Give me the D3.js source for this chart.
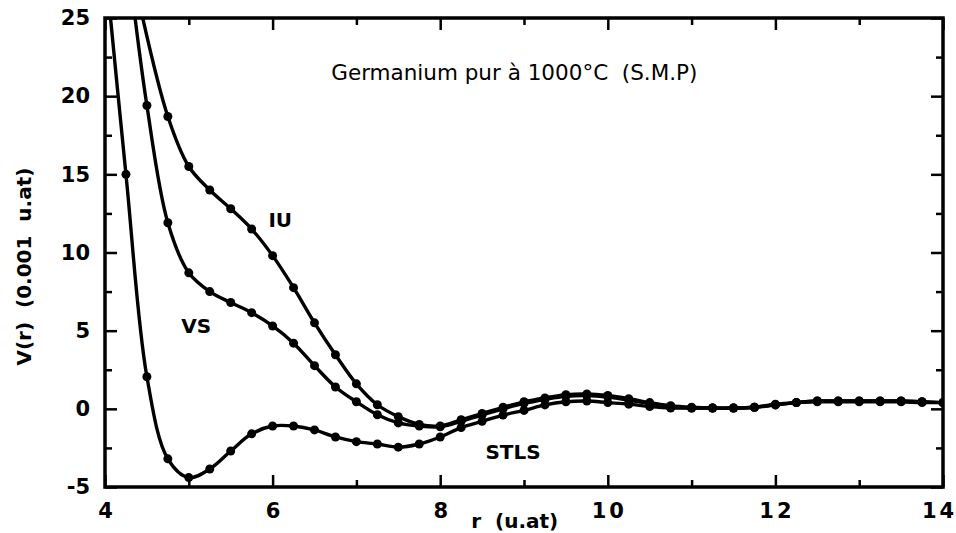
<!DOCTYPE html>
<html>
<head>
<meta charset="utf-8">
<script src="https://cdn.jsdelivr.net/npm/d3@7"></script>
<style>
  html, body { margin: 0; padding: 0; background: #fff; }
  svg { display: block; font-family: "DejaVu Sans", Arial, Helvetica, sans-serif; }
  svg text { white-space: pre; }
</style>
</head>
<body>
<svg id="chart" width="956" height="533"></svg>
<script>
// Pair potential V(r) of pure germanium at 1000 °C, three local-field schemes
const iuR   = [4.4, 4.75, 5.0, 5.25, 5.5, 5.75, 6.0, 6.25, 6.5, 6.75, 7.0, 7.25, 7.5, 7.75, 8.0, 8.25, 8.5, 8.75, 9.0, 9.25, 9.5, 9.75, 10.0, 10.25, 10.5, 10.75, 11.0, 11.25, 11.5, 11.75, 12.0, 12.25, 12.5, 12.75, 13.0, 13.25, 13.5, 13.75, 14.0];
const iuV   = [26.2, 18.7, 15.5, 14.0, 12.8, 11.5, 9.8, 7.75, 5.5, 3.46, 1.6, 0.26, -0.5, -1.0, -1.1, -0.7, -0.3, 0.1, 0.45, 0.7, 0.9, 0.95, 0.85, 0.65, 0.4, 0.2, 0.1, 0.05, 0.05, 0.1, 0.25, 0.4, 0.5, 0.5, 0.5, 0.5, 0.5, 0.45, 0.4];

const vsR   = [4.3, 4.5, 4.75, 5.0, 5.25, 5.5, 5.75, 6.0, 6.25, 6.5, 6.75, 7.0, 7.25, 7.5, 7.75, 8.0, 8.25, 8.5, 8.75, 9.0, 9.25, 9.5, 9.75, 10.0, 10.25, 10.5, 10.75, 11.0, 11.25, 11.5, 11.75, 12.0, 12.25, 12.5, 12.75, 13.0, 13.25, 13.5, 13.75, 14.0];
const vsV   = [27.6, 19.4, 11.9, 8.7, 7.5, 6.8, 6.15, 5.3, 4.2, 2.76, 1.4, 0.45, -0.38, -0.9, -1.1, -1.15, -0.8, -0.4, 0.0, 0.35, 0.6, 0.8, 0.85, 0.75, 0.55, 0.35, 0.15, 0.05, 0.05, 0.05, 0.1, 0.25, 0.4, 0.5, 0.5, 0.5, 0.5, 0.5, 0.45, 0.4];

const stlsR = [4.0, 4.25, 4.5, 4.75, 5.0, 5.25, 5.5, 5.75, 6.0, 6.25, 6.5, 6.75, 7.0, 7.25, 7.5, 7.75, 8.0, 8.25, 8.5, 8.75, 9.0, 9.25, 9.5, 9.75, 10.0, 10.25, 10.5, 10.75, 11.0, 11.25, 11.5, 11.75, 12.0, 12.25, 12.5, 12.75, 13.0, 13.25, 13.5, 13.75, 14.0];
const stlsV = [28.6, 15.0, 2.05, -3.2, -4.4, -3.85, -2.7, -1.6, -1.1, -1.1, -1.35, -1.8, -2.1, -2.25, -2.45, -2.25, -1.8, -1.2, -0.8, -0.4, -0.1, 0.25, 0.45, 0.5, 0.4, 0.3, 0.15, 0.05, 0.05, 0.05, 0.05, 0.1, 0.3, 0.4, 0.45, 0.45, 0.45, 0.45, 0.45, 0.4, 0.4];

const xMajor = [4, 6, 8, 10, 12, 14];
const xMinor = [5, 7, 9, 11, 13];
const yMajor = [-5, 0, 5, 10, 15, 20, 25];
const yMinor = [-2.5, 2.5, 7.5, 12.5, 17.5, 22.5];

const titleText = "Germanium pur à 1000°C  (S.M.P)";
const xTitle = "r  (u.at)";
const yTitle = "V(r)  (0.001  u.at)";

// Curve names with the data position of each name's lower-left corner
const series = [
  { name: "IU",   r: iuR,   v: iuV,   lx: 5.95, ly: 11.6 },
  { name: "VS",   r: vsR,   v: vsV,   lx: 4.91, ly: 4.85 },
  { name: "STLS", r: stlsR, v: stlsV, lx: 8.54, ly: -3.2 }
];

const svg = d3.select("#chart");
const mLeft = 105, mRight = 943, mTop = 18, mBottom = 487;

const x = d3.scaleLinear().domain([4, 14]).range([mLeft, mRight]);
const y = d3.scaleLinear().domain([-5, 25]).range([mBottom, mTop]);

svg.append("defs").append("clipPath").attr("id", "plotclip")
  .append("rect").attr("x", mLeft).attr("y", mTop)
  .attr("width", mRight - mLeft).attr("height", mBottom - mTop);

const plot = svg.append("g").attr("clip-path", "url(#plotclip)");

const line = d3.line()
  .x(d => x(d[0])).y(d => y(d[1]))
  .curve(d3.curveCatmullRom.alpha(0.5));

series.forEach(s => {
  const pts = s.r.map((r, i) => [r, s.v[i]]);
  plot.append("path")
    .attr("d", line(pts))
    .attr("fill", "none")
    .attr("stroke", "#000")
    .attr("stroke-width", 3.4)
    .attr("stroke-linejoin", "round");
  plot.selectAll(null)
    .data(pts.filter(p => p[1] <= 25))
    .enter().append("circle")
    .attr("cx", d => x(d[0]))
    .attr("cy", d => y(d[1]))
    .attr("r", 4.5)
    .attr("fill", "#000");
});

// Axes with inward ticks on all four sides
function styleAxis(g) {
  g.select(".domain").remove();
  g.selectAll(".tick line").attr("stroke", "#000").attr("stroke-width", 2.5);
}

const tickFont = g => g.selectAll("text")
  .attr("fill", "#000")
  .attr("font-family", "'DejaVu Sans', Arial, sans-serif")
  .attr("font-size", 21)
  .attr("font-weight", "bold");

svg.append("g").attr("transform", `translate(0,${mBottom})`)
  .call(d3.axisBottom(x).tickValues(xMajor).tickSize(-12).tickPadding(16)
        .tickFormat(d => String(d)))
  .call(styleAxis).call(tickFont)
  .call(g => g.selectAll("text")
    .attr("letter-spacing", d => d >= 10 ? 3 : 0)
    .attr("dx", d => d === 14 ? -4 : (d >= 10 ? 1 : 0)));
svg.append("g").attr("transform", `translate(0,${mBottom})`)
  .call(d3.axisBottom(x).tickValues(xMinor).tickSize(-7).tickFormat(""))
  .call(styleAxis);

svg.append("g").attr("transform", `translate(0,${mTop})`)
  .call(d3.axisTop(x).tickValues(xMajor).tickSize(-12).tickFormat(""))
  .call(styleAxis);
svg.append("g").attr("transform", `translate(0,${mTop})`)
  .call(d3.axisTop(x).tickValues(xMinor).tickSize(-7).tickFormat(""))
  .call(styleAxis);

svg.append("g").attr("transform", `translate(${mLeft},0)`)
  .call(d3.axisLeft(y).tickValues(yMajor).tickSize(-12).tickPadding(15)
        .tickFormat(d => String(d)))
  .call(styleAxis).call(tickFont);
svg.append("g").attr("transform", `translate(${mLeft},0)`)
  .call(d3.axisLeft(y).tickValues(yMinor).tickSize(-7).tickFormat(""))
  .call(styleAxis);

svg.append("g").attr("transform", `translate(${mRight},0)`)
  .call(d3.axisRight(y).tickValues(yMajor).tickSize(-12).tickFormat(""))
  .call(styleAxis);
svg.append("g").attr("transform", `translate(${mRight},0)`)
  .call(d3.axisRight(y).tickValues(yMinor).tickSize(-7).tickFormat(""))
  .call(styleAxis);

// Frame
svg.append("rect")
  .attr("x", mLeft).attr("y", mTop)
  .attr("width", mRight - mLeft).attr("height", mBottom - mTop)
  .attr("fill", "none").attr("stroke", "#000").attr("stroke-width", 3.5);

// Title inside the frame
svg.append("text")
  .attr("x", x(6.7)).attr("y", 80)
  .attr("font-size", 21.5)
  .attr("fill", "#000")
  .text(titleText);

// Curve labels
series.forEach(s => {
  svg.append("text")
    .attr("x", x(s.lx)).attr("y", y(s.ly))
    .attr("font-size", 20)
    .attr("font-weight", "bold")
    .attr("fill", "#000")
    .text(s.name);
});

// Axis titles
svg.append("text")
  .attr("x", x(8.89)).attr("y", 528)
  .attr("text-anchor", "middle")
  .attr("font-size", 20)
  .attr("font-weight", "bold")
  .attr("fill", "#000")
  .text(xTitle);

svg.append("text")
  .attr("transform", `translate(31,${y(9.1)}) rotate(-90)`)
  .attr("text-anchor", "middle")
  .attr("font-size", 20)
  .attr("font-weight", "bold")
  .attr("fill", "#000")
  .text(yTitle);
</script>
</body>
</html>
